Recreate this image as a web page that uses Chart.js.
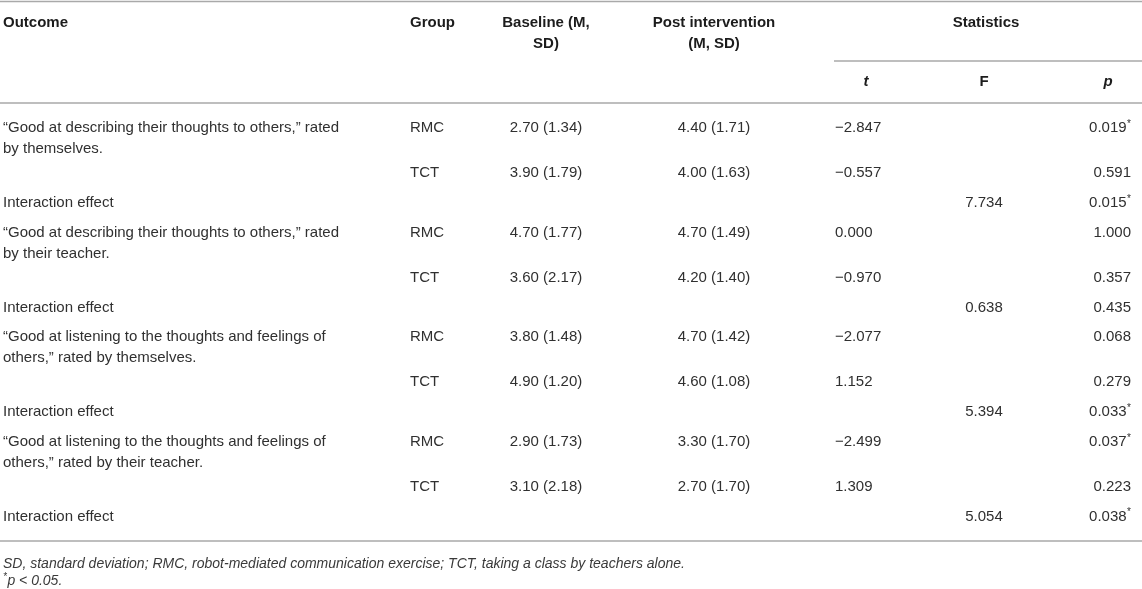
<!DOCTYPE html>
<html><head><meta charset="utf-8">
<script src="https://cdn.jsdelivr.net/npm/chart.js@4.4.1/dist/chart.umd.min.js"></script>
<style>html,body{margin:0;padding:0;background:#fff}#wrap{width:1142px;height:589px;position:relative}</style>
</head><body><div id="wrap"><canvas id="c"></canvas></div>
<script>
// ---------- DATA ----------
const colHeaders = [['Outcome'], ['Group'], ['Baseline (M,', 'SD)'], ['Post intervention', '(M, SD)']];
const statsHeader = 'Statistics';
const statHeaders = ['t', 'F', 'p'];
const outcomes = [
  ['“Good at describing their thoughts to others,” rated', 'by themselves.'],
  ['“Good at describing their thoughts to others,” rated', 'by their teacher.'],
  ['“Good at listening to the thoughts and feelings of', 'others,” rated by themselves.'],
  ['“Good at listening to the thoughts and feelings of', 'others,” rated by their teacher.']
];
const groups = ['RMC', 'TCT'];
const interactionLabel = 'Interaction effect';
// order: outcome1 RMC, outcome1 TCT, outcome2 RMC, ...
const baselineM  = [2.70, 3.90, 4.70, 3.60, 3.80, 4.90, 2.90, 3.10];
const baselineSD = [1.34, 1.79, 1.77, 2.17, 1.48, 1.20, 1.73, 2.18];
const postM      = [4.40, 4.00, 4.70, 4.20, 4.70, 4.60, 3.30, 2.70];
const postSD     = [1.71, 1.63, 1.49, 1.40, 1.42, 1.08, 1.70, 1.70];
const tValues    = [-2.847, -0.557, 0.000, -0.970, -2.077, 1.152, -2.499, 1.309];
const pGroup     = [0.019, 0.591, 1.000, 0.357, 0.068, 0.279, 0.037, 0.223];
const fInter     = [7.734, 0.638, 5.394, 5.054];
const pInter     = [0.015, 0.435, 0.033, 0.038];
const alpha = 0.05;
const footnote1 = 'SD, standard deviation; RMC, robot-mediated communication exercise; TCT, taking a class by teachers alone.';
const footnote2 = 'p < 0.05.';

// ---------- LAYOUT / STYLE ----------
const L = {
  W: 1142, H: 589,
  xOutcome: 3, xGroup: 410, xBase: 546, xPost: 714, xT: 835, xTHead: 866,
  xF: 984, xP: 1131, xPHead: 1108, xStats: 986, xStatsLine0: 834,
  yTopLine: 1.5, yHead1: 22.5, yHead2: 44, yStatsLine: 61, ySub: 82, yHeadLine: 103,
  yFirst: 128, lineH: 21, rowDouble: 45, rowSingle: 29.8,
  yBottomLine: 541, yFoot1: 564, yFoot2: 581
};
const FAM = '"Liberation Sans", Arial, Helvetica, sans-serif';
const F_BODY = '15px ' + FAM, F_HEAD = 'bold 15px ' + FAM, F_HEAD_I = 'italic bold 15px ' + FAM;
const F_FOOT = 'italic 14px ' + FAM, F_SUP = '10px ' + FAM, F_SUP_I = 'italic 10px ' + FAM;
const C_BODY = '#303030', C_HEAD = '#1c1c1c', C_FOOT = '#3a3a3a', C_RULE = '#a9a9a9';

const fmt = (v, d) => { const s = Math.abs(v).toFixed(d); return (v < 0 ? '\u2212' : '') + s; };

// ---------- BUILD CELLS ----------
const cells = [];
const cell = (x, y, text, o = {}) => cells.push(Object.assign({ x, y, text, align: 'left', font: F_BODY, color: C_BODY }, o));

// headers
cell(L.xOutcome, L.yHead1, colHeaders[0][0], { font: F_HEAD, color: C_HEAD });
cell(L.xGroup, L.yHead1, colHeaders[1][0], { font: F_HEAD, color: C_HEAD });
colHeaders[2].forEach((t, i) => cell(L.xBase, i ? L.yHead2 : L.yHead1, t, { font: F_HEAD, color: C_HEAD, align: 'center' }));
colHeaders[3].forEach((t, i) => cell(L.xPost, i ? L.yHead2 : L.yHead1, t, { font: F_HEAD, color: C_HEAD, align: 'center' }));
cell(L.xStats, L.yHead1, statsHeader, { font: F_HEAD, color: C_HEAD, align: 'center' });
cell(L.xTHead, L.ySub, statHeaders[0], { font: F_HEAD_I, color: C_HEAD, align: 'center' });
cell(L.xF, L.ySub, statHeaders[1], { font: F_HEAD, color: C_HEAD, align: 'center' });
cell(L.xPHead, L.ySub, statHeaders[2], { font: F_HEAD_I, color: C_HEAD, align: 'center' });

// body
let y = L.yFirst;
outcomes.forEach((lines, o) => {
  groups.forEach((g, gi) => {
    const k = o * groups.length + gi;
    if (gi === 0) lines.forEach((ln, li) => cell(L.xOutcome, y + li * L.lineH, ln));
    cell(L.xGroup, y, g);
    cell(L.xBase, y, baselineM[k].toFixed(2) + ' (' + baselineSD[k].toFixed(2) + ')', { align: 'center' });
    cell(L.xPost, y, postM[k].toFixed(2) + ' (' + postSD[k].toFixed(2) + ')', { align: 'center' });
    cell(L.xT, y, fmt(tValues[k], 3));
    cell(L.xP, y, pGroup[k].toFixed(3), { align: 'right', sup: pGroup[k] < alpha ? '*' : '' });
    y += (gi === 0 && lines.length > 1) ? L.rowDouble : L.rowSingle;
  });
  cell(L.xOutcome, y, interactionLabel);
  cell(L.xF, y, fInter[o].toFixed(3), { align: 'center' });
  cell(L.xP, y, pInter[o].toFixed(3), { align: 'right', sup: pInter[o] < alpha ? '*' : '' });
  y += L.rowSingle;
});
cell(L.xOutcome, L.yFoot1, footnote1, { font: F_FOOT, color: C_FOOT });
cell(L.xOutcome, L.yFoot2, footnote2, { font: F_FOOT, color: C_FOOT, pre: '*' });

// rules
const rules = [
  [0, L.W, L.yTopLine], [L.xStatsLine0, L.W, L.yStatsLine], [0, L.W, L.yHeadLine], [0, L.W, L.yBottomLine]
];
const ruleDatasets = rules.map(([x0, x1, yy]) => ({
  type: 'line', data: [{ x: x0, y: yy }, { x: x1, y: yy }],
  borderColor: C_RULE, borderWidth: 1.5, pointRadius: 0, fill: false, tension: 0
}));

// ---------- PLUGIN: draw cell text at the scaled points ----------
const cellText = {
  id: 'cellText',
  afterDatasetsDraw(chart) {
    const ctx = chart.ctx;
    const meta = chart.getDatasetMeta(0);
    ctx.save();
    ctx.textBaseline = 'middle';
    meta.data.forEach((el, i) => {
      const c = chart.data.datasets[0].data[i];
      ctx.fillStyle = c.color;
      ctx.font = c.font;
      const w = ctx.measureText(c.text).width;
      let sw = 0, pw = 0;
      if (c.sup) { ctx.font = F_SUP; sw = ctx.measureText(c.sup).width + 0.5; }
      if (c.pre) { ctx.font = F_SUP_I; pw = ctx.measureText(c.pre).width + 0.5; }
      const total = w + sw + pw;
      let x0 = el.x;
      if (c.align === 'center') x0 = el.x - total / 2;
      else if (c.align === 'right') x0 = el.x - total;
      ctx.textAlign = 'left';
      if (c.pre) { ctx.font = F_SUP_I; ctx.fillText(c.pre, x0, el.y - 4); }
      ctx.font = c.font;
      ctx.fillText(c.text, x0 + pw, el.y);
      if (c.sup) { ctx.font = F_SUP; ctx.fillText(c.sup, x0 + pw + w + 0.5, el.y - 4); }
    });
    ctx.restore();
  }
};

new Chart(document.getElementById('c'), {
  type: 'scatter',
  data: {
    datasets: [{ label: 'cells', data: cells, pointRadius: 0, pointHoverRadius: 0 }].concat(ruleDatasets)
  },
  options: {
    responsive: true, maintainAspectRatio: false, animation: false, events: [],
    layout: { padding: 0 },
    plugins: { legend: { display: false }, tooltip: { enabled: false } },
    scales: {
      x: { type: 'linear', min: 0, max: L.W, display: false },
      y: { type: 'linear', min: 0, max: L.H, reverse: true, display: false }
    }
  },
  plugins: [cellText]
});
</script></body></html>
